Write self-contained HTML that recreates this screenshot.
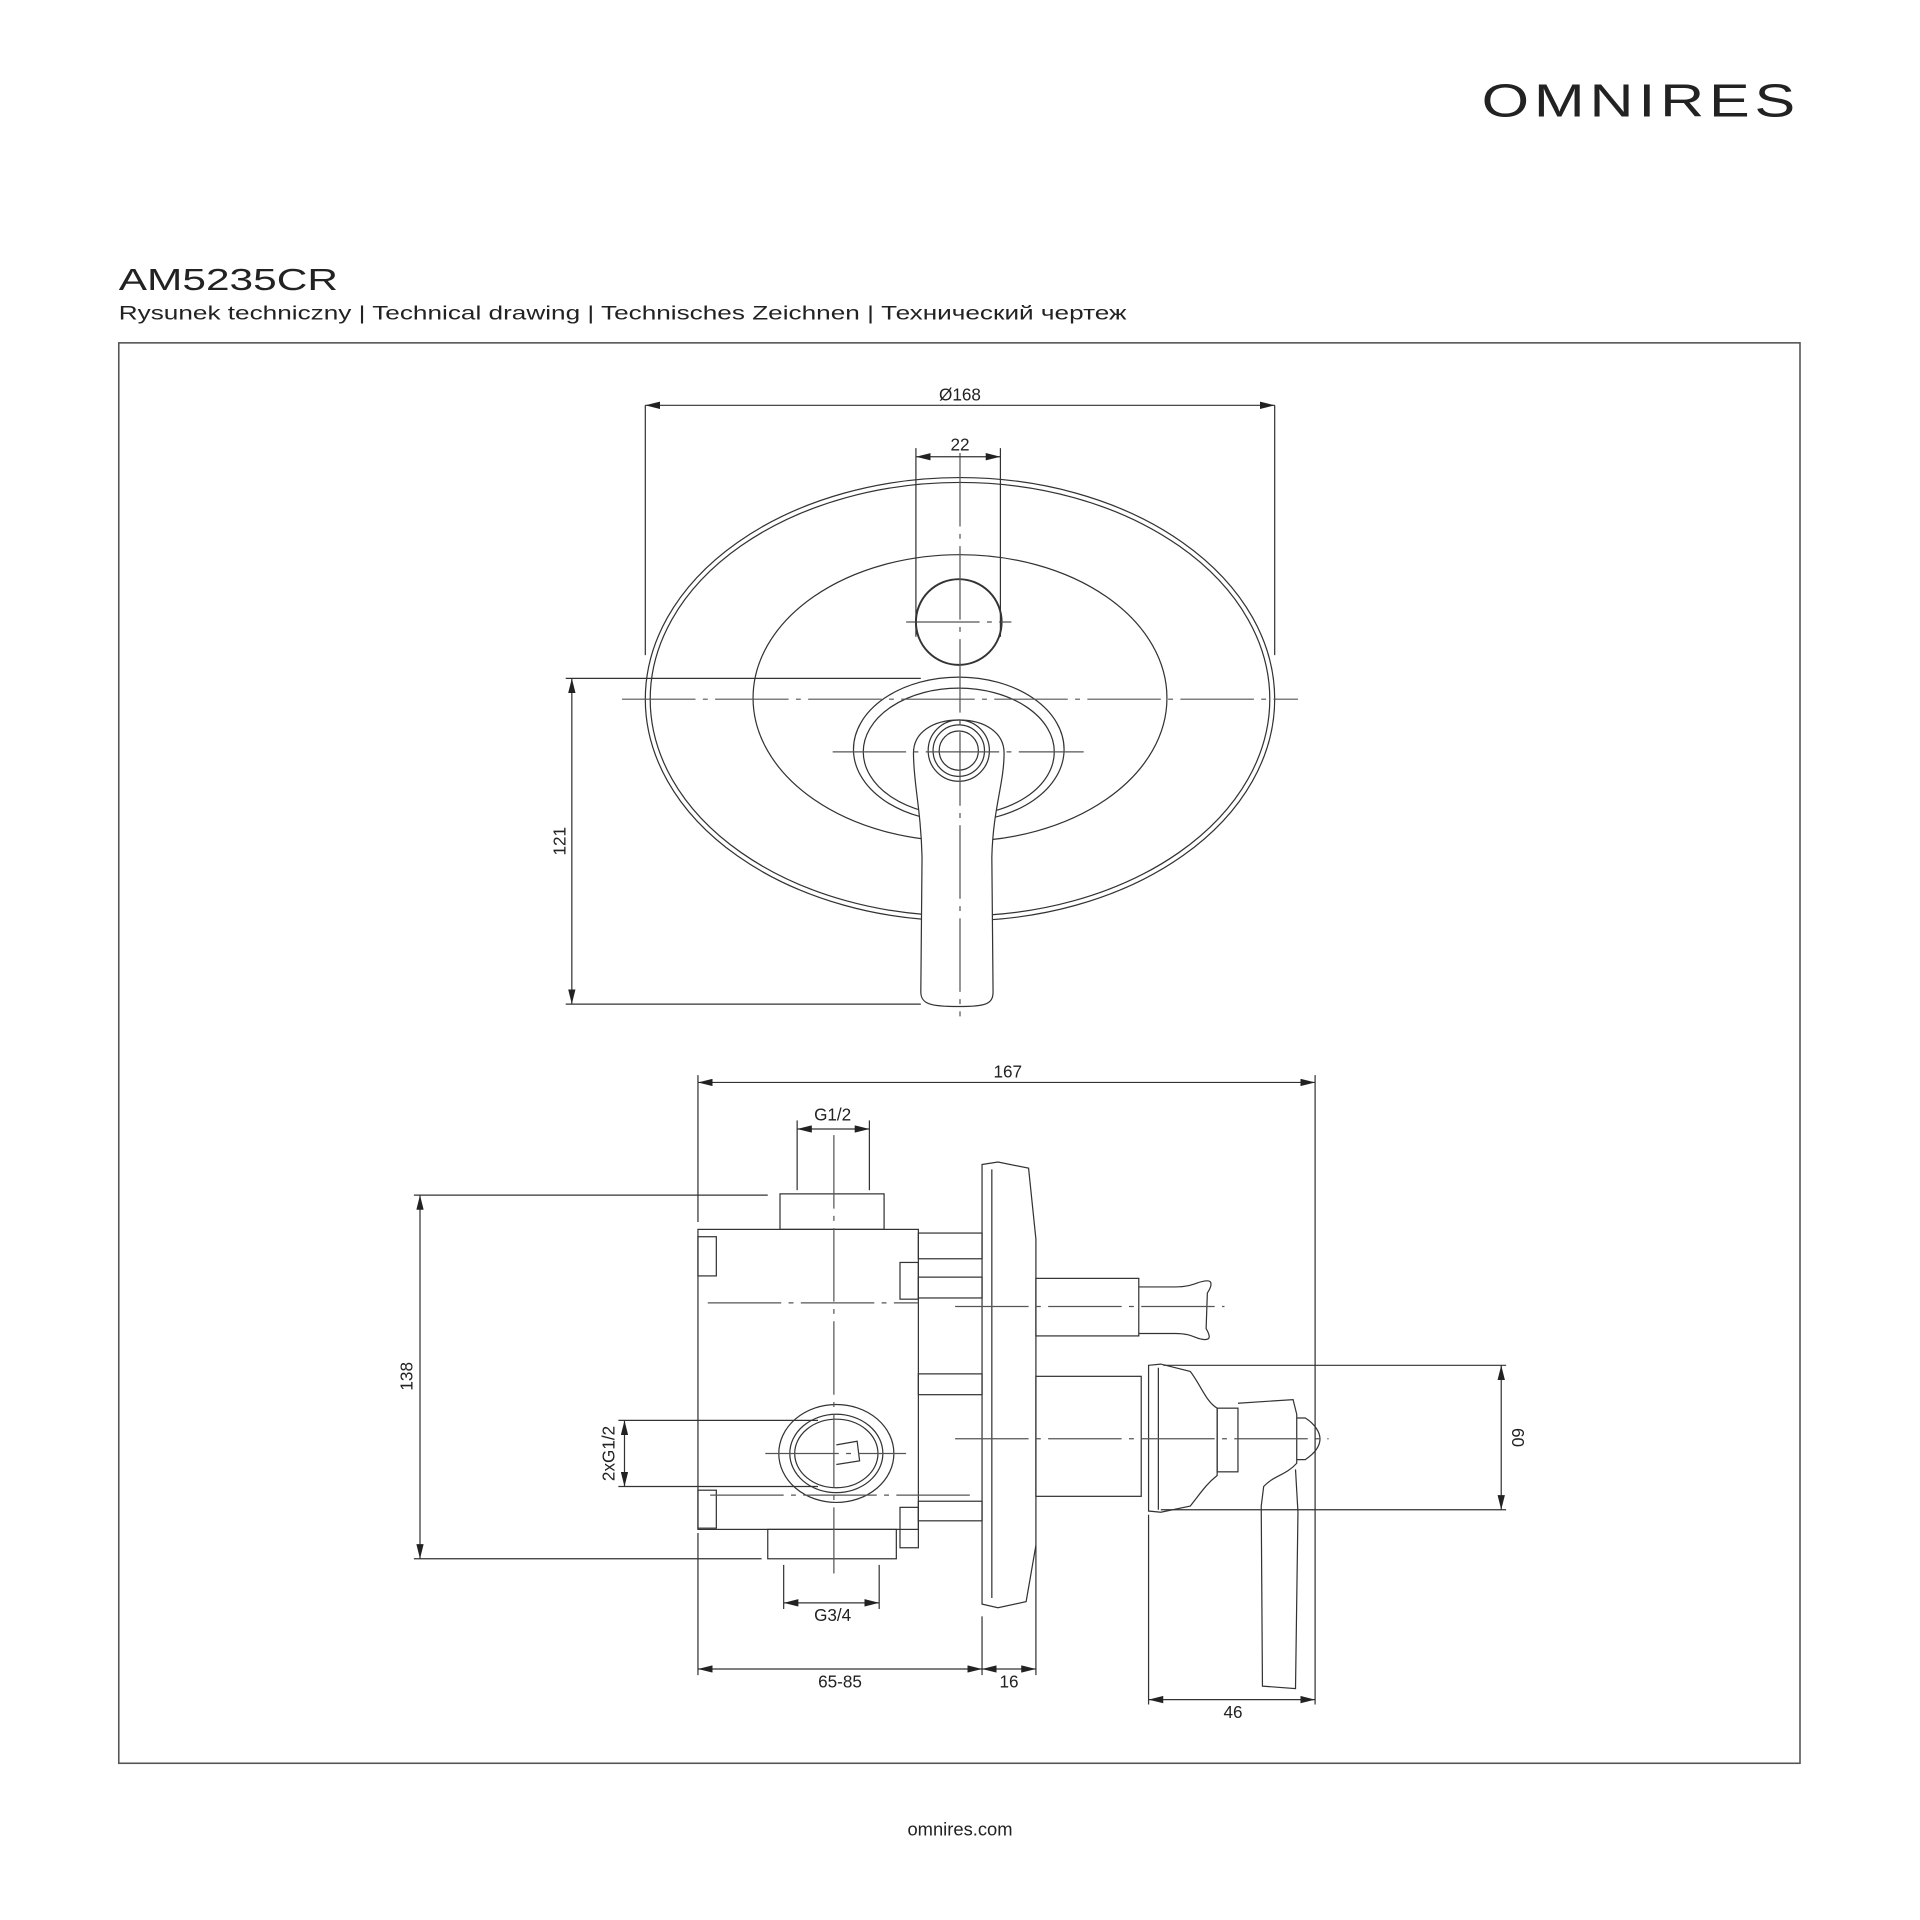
<!DOCTYPE html>
<html><head><meta charset="utf-8"><style>
html,body{margin:0;padding:0;background:#fff}
svg{display:block}
text{font-family:"Liberation Sans",sans-serif;fill:#222}
</style></head><body>
<svg width="1920" height="1920" viewBox="0 0 1568 1568" xmlns="http://www.w3.org/2000/svg">
<defs>
<marker id="a" markerWidth="12" markerHeight="6" refX="12" refY="3" orient="auto-start-reverse" markerUnits="userSpaceOnUse"><path d="M0,0 L12,3 L0,6 Z" fill="#222"/></marker>
</defs>
<text x="1210" y="95" font-size="38" textLength="260" lengthAdjust="spacingAndGlyphs" letter-spacing="3">OMNIRES</text>
<text x="97" y="237" font-size="25" textLength="179" lengthAdjust="spacingAndGlyphs">AM5235CR</text>
<text x="97" y="261" font-size="15.5" textLength="823" lengthAdjust="spacingAndGlyphs" style="font-family:'Liberation Sans','DejaVu Sans',sans-serif">Rysunek techniczny | Technical drawing | Technisches Zeichnen | Технический чертеж</text>
<rect x="97" y="280" width="1373" height="1160" fill="none" stroke="#555" stroke-width="1.3"/>
<text x="784" y="1499" font-size="15" text-anchor="middle">omnires.com</text>

<g fill="none" stroke="#333" stroke-width="1">
<ellipse cx="784" cy="571" rx="257" ry="181"/>
<ellipse cx="784" cy="571" rx="253" ry="177"/>
<ellipse cx="784" cy="570" rx="169" ry="117"/>
<circle cx="783" cy="508" r="35" stroke-width="1.6"/>
<ellipse cx="783" cy="612" rx="86" ry="59"/>
<ellipse cx="783" cy="614" rx="78" ry="52"/>
<path d="M746,615 C746,598 762,588 783,588 C804,588 820,598 820,615 C820,640 811,660 810,700 L811,810 C811,820 805,822 783,822 C760,822 752,820 752,810 L753,700 C752,660 746,640 746,615 Z" fill="#fff"/>
<circle cx="783" cy="613" r="25"/><circle cx="783" cy="613" r="21"/><circle cx="783" cy="613" r="16"/>
<g stroke-dasharray="60,6,4,6" stroke="#555">
<line x1="508" y1="571" x2="1060" y2="571"/>
<line x1="784" y1="370" x2="784" y2="830"/>
<line x1="680" y1="614" x2="885" y2="614"/>
<line x1="740" y1="508" x2="826" y2="508"/>
</g>
<line x1="527" y1="331" x2="527" y2="535"/><line x1="1041" y1="331" x2="1041" y2="535"/>
<line x1="527" y1="331" x2="1041" y2="331" marker-start="url(#a)" marker-end="url(#a)"/>
<line x1="748" y1="366" x2="748" y2="520"/><line x1="817" y1="366" x2="817" y2="520"/>
<line x1="748" y1="373" x2="817" y2="373" marker-start="url(#a)" marker-end="url(#a)"/>
<line x1="462" y1="554" x2="752" y2="554"/><line x1="462" y1="820" x2="752" y2="820"/>
<line x1="467" y1="554" x2="467" y2="820" marker-start="url(#a)" marker-end="url(#a)"/>

<rect x="570" y="1004" width="180" height="245"/>
<rect x="637" y="975" width="85" height="29"/>
<rect x="627" y="1249" width="105" height="24"/>
<rect x="570" y="1010" width="15" height="32"/>
<rect x="570" y="1217" width="15" height="31"/>
<rect x="735" y="1031" width="15" height="30"/>
<rect x="735" y="1231" width="15" height="33"/>
<rect x="750" y="1007" width="52" height="21"/>
<rect x="750" y="1043" width="52" height="17"/>
<rect x="750" y="1122" width="52" height="17"/>
<rect x="750" y="1226" width="52" height="16"/>
<path d="M802,951 L815,949 L840,954 L846,1012 L846,1262 L838,1308 L815,1313 L802,1310 Z"/>
<line x1="810" y1="955" x2="810" y2="1305"/>
<rect x="846" y="1044" width="84" height="47"/>
<path d="M930,1051 L960,1051 C975,1051 978,1046 986,1046 C990,1046 990,1050 986,1056 L985,1085 C989,1092 988,1094 984,1094 C976,1094 975,1089 960,1089 L930,1089"/>
<rect x="846" y="1124" width="86" height="98"/>
<path d="M938,1115 L948,1114 L972,1120 C980,1130 985,1145 994,1150 L994,1205 C985,1212 980,1220 972,1230 L948,1235 L938,1234 Z"/>
<line x1="946" y1="1117" x2="946" y2="1233"/>
<rect x="994" y="1150" width="17" height="52"/>
<path d="M1011,1146 L1056,1143 L1059,1155 L1059,1195 C1050,1205 1040,1205 1032,1214 L1030,1230 L1031,1377 L1058,1379 L1060,1235 L1058,1200"/>
<path d="M1059,1158 L1066,1158 C1074,1163 1078,1170 1078,1175 C1078,1182 1072,1188 1066,1192 L1059,1192"/>
<ellipse cx="683" cy="1187" rx="47" ry="40"/>
<ellipse cx="683" cy="1187" rx="38" ry="32"/>
<ellipse cx="683" cy="1187" rx="34" ry="28"/>
<path d="M683,1180 L700,1177 L702,1193 L683,1196"/>
<g stroke-dasharray="60,6,4,6" stroke="#555">
<line x1="681" y1="927" x2="681" y2="1285"/>
<line x1="578" y1="1064" x2="750" y2="1064"/>
<line x1="780" y1="1067" x2="1000" y2="1067"/>
<line x1="780" y1="1175" x2="1085" y2="1175"/>
<line x1="580" y1="1221" x2="795" y2="1221"/>
<line x1="625" y1="1187" x2="740" y2="1187"/>
</g>
<line x1="570" y1="878" x2="570" y2="998"/><line x1="1074" y1="878" x2="1074" y2="1392"/>
<line x1="570" y1="884" x2="1074" y2="884" marker-start="url(#a)" marker-end="url(#a)"/>
<line x1="651" y1="915" x2="651" y2="972"/><line x1="710" y1="915" x2="710" y2="972"/>
<line x1="651" y1="922" x2="710" y2="922" marker-start="url(#a)" marker-end="url(#a)"/>
<line x1="338" y1="976" x2="627" y2="976"/><line x1="338" y1="1273" x2="622" y2="1273"/>
<line x1="343" y1="976" x2="343" y2="1273" marker-start="url(#a)" marker-end="url(#a)"/>
<line x1="505" y1="1160" x2="668" y2="1160"/><line x1="505" y1="1214" x2="668" y2="1214"/>
<line x1="510" y1="1160" x2="510" y2="1214" marker-start="url(#a)" marker-end="url(#a)"/>
<line x1="640" y1="1278" x2="640" y2="1314"/><line x1="718" y1="1278" x2="718" y2="1314"/>
<line x1="640" y1="1309" x2="718" y2="1309" marker-start="url(#a)" marker-end="url(#a)"/>
<line x1="570" y1="1252" x2="570" y2="1368"/>
<line x1="802" y1="1320" x2="802" y2="1368"/><line x1="846" y1="1262" x2="846" y2="1368"/>
<line x1="570" y1="1363" x2="802" y2="1363" marker-start="url(#a)" marker-end="url(#a)"/>
<line x1="802" y1="1363" x2="846" y2="1363" marker-start="url(#a)" marker-end="url(#a)"/>
<line x1="938" y1="1237" x2="938" y2="1392"/>
<line x1="938" y1="1388" x2="1074" y2="1388" marker-start="url(#a)" marker-end="url(#a)"/>
<line x1="950" y1="1115" x2="1230" y2="1115"/><line x1="948" y1="1233" x2="1230" y2="1233"/>
<line x1="1226" y1="1115" x2="1226" y2="1233" marker-start="url(#a)" marker-end="url(#a)"/>
</g>
<g font-size="14">
<text x="784" y="327" text-anchor="middle">Ø168</text>
<text x="784" y="368" text-anchor="middle">22</text>
<text transform="translate(462,687) rotate(-90)" text-anchor="middle">121</text>
<text x="823" y="880" text-anchor="middle">167</text>
<text x="680" y="915" text-anchor="middle">G1/2</text>
<text transform="translate(337,1124) rotate(-90)" text-anchor="middle">138</text>
<text transform="translate(502,1187) rotate(-90)" text-anchor="middle">2xG1/2</text>
<text x="680" y="1324" text-anchor="middle">G3/4</text>
<text x="686" y="1378" text-anchor="middle">65-85</text>
<text x="824" y="1378" text-anchor="middle">16</text>
<text x="1007" y="1403" text-anchor="middle">46</text>
<text transform="translate(1235,1174) rotate(90)" text-anchor="middle">60</text>
</g>
</svg>
</body></html>
